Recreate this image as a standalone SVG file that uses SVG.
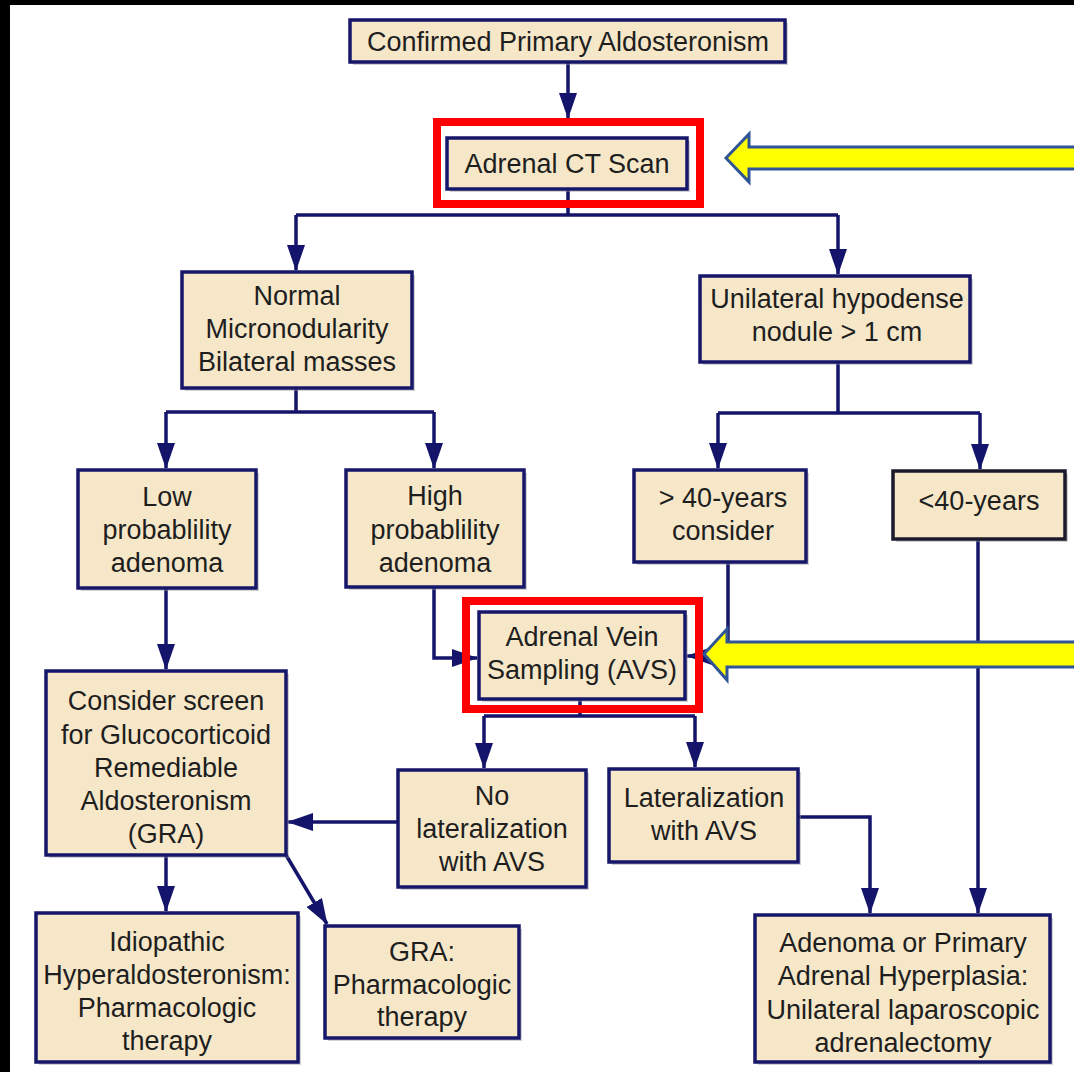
<svg xmlns="http://www.w3.org/2000/svg" width="1074" height="1072" viewBox="0 0 1074 1072">
<style>
.box{fill:#F6E7C9;stroke:#16166A;stroke-width:3.5}
.shadow{fill:#9a9a9a;opacity:0.45}
.t{font-family:"Liberation Sans",Arial,sans-serif;font-size:27px;fill:#1e1e1e;text-anchor:middle}
.c{fill:none;stroke:#14146B;stroke-width:3.5}
.red{fill:none;stroke:#FF0000;stroke-width:8}
.ya{fill:#FFFF00;stroke:#2F5597;stroke-width:3}
</style>
<defs>
<marker id="ah" viewBox="0 0 26 18" refX="25" refY="9" markerWidth="26" markerHeight="18" markerUnits="userSpaceOnUse" orient="auto">
<path d="M0,0 L26,9 L0,18 z" fill="#14146B"/>
</marker>
</defs>
<rect x="0" y="0" width="1074" height="1072" fill="#ffffff"/>
<rect x="0" y="0" width="1074" height="5" fill="#000"/>
<rect x="0" y="0" width="10" height="1072" fill="#000"/>

<g id="connectors">
<path class="c" d="M568,62 V118" marker-end="url(#ah)"/>
<path class="c" d="M568,189 V215 M296,215 H838"/>
<path class="c" d="M296,215 V270" marker-end="url(#ah)"/>
<path class="c" d="M838,215 V274" marker-end="url(#ah)"/>
<path class="c" d="M296,388 V412 M166,412 H434"/>
<path class="c" d="M166,412 V468" marker-end="url(#ah)"/>
<path class="c" d="M434,412 V468" marker-end="url(#ah)"/>
<path class="c" d="M838,362 V413 M718,413 H980"/>
<path class="c" d="M718,413 V468" marker-end="url(#ah)"/>
<path class="c" d="M980,413 V469" marker-end="url(#ah)"/>
<path class="c" d="M166,588 V669" marker-end="url(#ah)"/>
<path class="c" d="M434,587 V658 H477" marker-end="url(#ah)"/>
<path class="c" d="M728,562 V656 H687" marker-end="url(#ah)"/>
<path class="c" d="M978,539 V913" marker-end="url(#ah)"/>
<path class="c" d="M580,699 V716 M484,716 H695"/>
<path class="c" d="M484,716 V768" marker-end="url(#ah)"/>
<path class="c" d="M695,716 V767" marker-end="url(#ah)"/>
<path class="c" d="M398,822 H288" marker-end="url(#ah)"/>
<path class="c" d="M798,817 H870 V913" marker-end="url(#ah)"/>
<path class="c" d="M166,855 V911" marker-end="url(#ah)"/>
<path class="c" d="M286,855 L327,924" marker-end="url(#ah)"/>
</g>

<g id="n-confirmed">
<rect class="shadow" x="353" y="23" width="435" height="42"/>
<rect class="box" x="350" y="20" width="435" height="42"/>
<text class="t" x="568" y="51">Confirmed Primary Aldosteronism</text>
</g>

<g id="n-ct">
<rect class="red" x="437" y="122" width="263" height="82"/>
<rect class="shadow" x="450" y="141" width="240" height="51"/>
<rect class="box" x="447" y="138" width="240" height="51"/>
<text class="t" x="567" y="173">Adrenal CT Scan</text>
</g>

<g id="arrow-ct">
<path class="ya" d="M726,158 L749,134 L749,147 L1080,147 L1080,169 L749,169 L749,182 Z"/>
</g>

<g id="n-normal">
<rect class="shadow" x="185" y="275" width="230" height="116"/>
<rect class="box" x="182" y="272" width="230" height="116"/>
<text class="t" x="297" y="305">Normal</text>
<text class="t" x="297" y="338">Micronodularity</text>
<text class="t" x="297" y="371">Bilateral masses</text>
</g>

<g id="n-unilateral">
<rect class="shadow" x="703" y="279" width="270" height="86"/>
<rect class="box" x="700" y="276" width="270" height="86"/>
<text class="t" x="837" y="308">Unilateral hypodense</text>
<text class="t" x="837" y="341">nodule &gt; 1 cm</text>
</g>

<g id="n-low">
<rect class="shadow" x="81" y="473" width="178" height="118"/>
<rect class="box" x="78" y="470" width="178" height="118"/>
<text class="t" x="167" y="506">Low</text>
<text class="t" x="167" y="539">probablility</text>
<text class="t" x="167" y="572">adenoma</text>
</g>

<g id="n-high">
<rect class="shadow" x="349" y="473" width="178" height="117"/>
<rect class="box" x="346" y="470" width="178" height="117"/>
<text class="t" x="435" y="505">High</text>
<text class="t" x="435" y="539">probablility</text>
<text class="t" x="435" y="572">adenoma</text>
</g>

<g id="n-gt40">
<rect class="shadow" x="637" y="473" width="172" height="92"/>
<rect class="box" x="634" y="470" width="172" height="92"/>
<text class="t" x="723" y="507">&gt; 40-years</text>
<text class="t" x="723" y="540">consider</text>
</g>

<g id="n-lt40">
<rect class="shadow" x="896" y="474" width="172" height="68"/>
<rect class="box" x="893" y="471" width="172" height="68" style="stroke:#1a1a2a"/>
<text class="t" x="979" y="510">&lt;40-years</text>
</g>

<g id="n-screen">
<rect class="shadow" x="49" y="674" width="240" height="184"/>
<rect class="box" x="46" y="671" width="240" height="184"/>
<text class="t" x="166" y="710">Consider screen</text>
<text class="t" x="166" y="744">for Glucocorticoid</text>
<text class="t" x="166" y="777">Remediable</text>
<text class="t" x="166" y="810">Aldosteronism</text>
<text class="t" x="166" y="843">(GRA)</text>
</g>

<g id="n-avs">
<rect class="red" x="466" y="601" width="233" height="108"/>
<rect class="shadow" x="482" y="615" width="206" height="87"/>
<rect class="box" x="479" y="612" width="206" height="87"/>
<text class="t" x="582" y="646">Adrenal Vein</text>
<text class="t" x="582" y="679">Sampling (AVS)</text>
</g>

<g id="arrow-avs">
<path class="ya" d="M704,654 L727,629 L727,642 L1080,642 L1080,667 L727,667 L727,680 Z"/>
</g>

<g id="n-nolat">
<rect class="shadow" x="401" y="773" width="188" height="117"/>
<rect class="box" x="398" y="770" width="188" height="117"/>
<text class="t" x="492" y="805">No</text>
<text class="t" x="492" y="838">lateralization</text>
<text class="t" x="492" y="871">with AVS</text>
</g>

<g id="n-lat">
<rect class="shadow" x="612" y="772" width="189" height="93"/>
<rect class="box" x="609" y="769" width="189" height="93"/>
<text class="t" x="704" y="807">Lateralization</text>
<text class="t" x="704" y="840">with AVS</text>
</g>

<g id="n-adenoma">
<rect class="shadow" x="758" y="918" width="295" height="147"/>
<rect class="box" x="755" y="915" width="295" height="147"/>
<text class="t" x="903" y="952">Adenoma or Primary</text>
<text class="t" x="903" y="985">Adrenal Hyperplasia:</text>
<text class="t" x="903" y="1019">Unilateral laparoscopic</text>
<text class="t" x="903" y="1052">adrenalectomy</text>
</g>

<g id="n-idio">
<rect class="shadow" x="39" y="916" width="262" height="149"/>
<rect class="box" x="36" y="913" width="262" height="149"/>
<text class="t" x="167" y="951">Idiopathic</text>
<text class="t" x="167" y="984">Hyperaldosteronism:</text>
<text class="t" x="167" y="1017">Pharmacologic</text>
<text class="t" x="167" y="1050">therapy</text>
</g>

<g id="n-gra">
<rect class="shadow" x="328" y="929" width="194" height="112"/>
<rect class="box" x="325" y="926" width="194" height="112"/>
<text class="t" x="422" y="961">GRA:</text>
<text class="t" x="422" y="994">Pharmacologic</text>
<text class="t" x="422" y="1026">therapy</text>
</g>
</svg>
